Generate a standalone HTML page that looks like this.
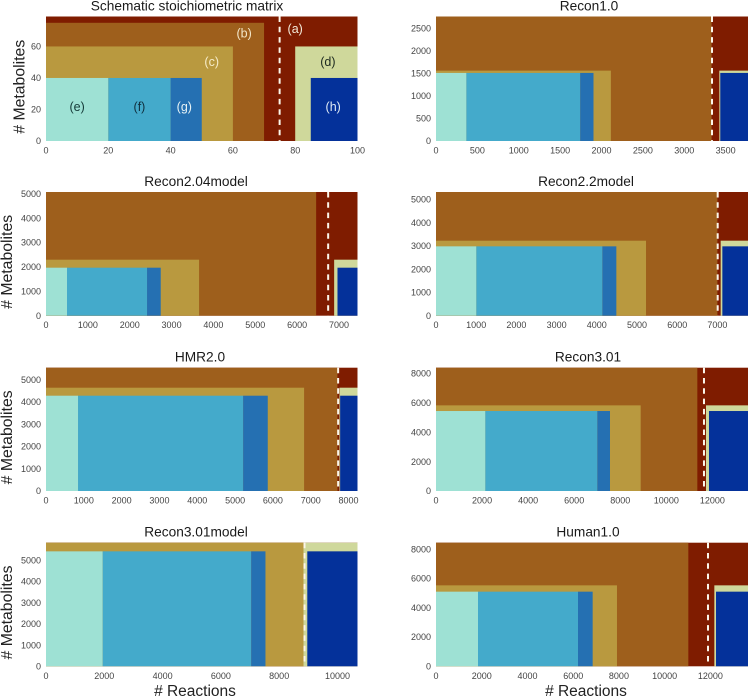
<!DOCTYPE html>
<html lang="en">
<head>
<meta charset="utf-8">
<title>Stoichiometric matrix comparison</title>
<style>
html,body{margin:0;padding:0;background:#fff;width:748px;height:697px;overflow:hidden}
svg{display:block;font-family:"Liberation Sans",Arial,sans-serif}
</style>
</head>
<body>
<svg id="figure" width="748" height="697" viewBox="0 0 748 697" xmlns="http://www.w3.org/2000/svg"></svg>
<script>
const panelTitles = ["Schematic stoichiometric matrix","Recon1.0","Recon2.04model","Recon2.2model","HMR2.0","Recon3.01","Recon3.01model","Human1.0"];
const xMax   = [100, 3770, 7442, 7761, 8237, 13546, 10686, 13644];
const yMax   = [79, 2760, 5068, 5315, 5539, 8390, 5833, 8451];
const xB     = [70, 3330, 6454, 7000, 7707, 11346, 8833, 11035];
const yB     = [75, 2760, 5068, 5315, 5539, 8390, 5833, 8451];
const xC     = [60, 2113, 3657, 5224, 6825, 8886, 8833, 7915];
const yC     = [60, 1560, 2295, 3223, 4641, 5828, 5833, 5535];
const xE     = [20, 367, 502, 1003, 847, 2142, 1945, 1837];
const xF     = [40, 1742, 2414, 4138, 5212, 7004, 7037, 6210];
const xG     = [50, 1903, 2741, 4486, 5864, 7554, 7529, 6851];
const yE     = [40, 1509, 1967, 2980, 4281, 5442, 5425, 5103];
const xD     = [80, 3423, 6884, 7081, 7760, 11722, 8833, 12172];
const xH     = [85, 3435, 6964, 7123, 7778, 11852, 8964, 12245];
const xCut   = [75, 3335, 6741, 7007, 7725, 11635, 8868, 11895];
const xTicks = [
  [0,20,40,60,80,100],
  [0,500,1000,1500,2000,2500,3000,3500],
  [0,1000,2000,3000,4000,5000,6000,7000],
  [0,1000,2000,3000,4000,5000,6000,7000],
  [0,1000,2000,3000,4000,5000,6000,7000,8000],
  [0,2000,4000,6000,8000,10000,12000],
  [0,2000,4000,6000,8000,10000],
  [0,2000,4000,6000,8000,10000,12000]
];
const yTicks = [
  [0,20,40,60],
  [0,500,1000,1500,2000,2500],
  [0,1000,2000,3000,4000,5000],
  [0,1000,2000,3000,4000,5000],
  [0,1000,2000,3000,4000,5000],
  [0,2000,4000,6000,8000],
  [0,1000,2000,3000,4000,5000],
  [0,2000,4000,6000,8000]
];
const regionNames = ["a","b","c","d","e","f","g","h"];
const regionLabelX = [80, 63.6, 53.2, 90.5, 10, 30, 44.4, 92.2];
const regionLabelY = [71.5, 68.5, 50.5, 50.5, 22, 22, 22, 22];

const NS = "http://www.w3.org/2000/svg";
const fig = document.getElementById("figure");
const colLeft = [46, 436];
const colRight = [357.5, 748];
const rowTop = [16.5, 192, 367.7, 542.7];
const rowBottom = [141, 315.7, 491, 666.3];
const titleCenters = [187, 589, 196, 586, 200, 588, 196, 588];
const colors = {a:"#7f1c00", b:"#9e5f1c", c:"#b9993f", d:"#cfd89b", e:"#9ee1d4", f:"#44aacb", g:"#2570b2", h:"#04319a"};
const labelColors = {a:"#f3ead8", b:"#f3e6c8", c:"#f6ecc8", d:"#1d2a20", e:"#143a38", f:"#10303f", g:"#e6f2f5", h:"#dfeaf5"};

function rect(parent, x0, y0, x1, y1, fill, name) {
  const r = document.createElementNS(NS, "rect");
  r.setAttribute("x", x0);
  r.setAttribute("y", y1);
  r.setAttribute("width", Math.max(0, x1 - x0));
  r.setAttribute("height", Math.max(0, y0 - y1));
  r.setAttribute("fill", fill);
  
  
  parent.appendChild(r);
  return r;
}
function text(parent, x, y, str, size, fill, anchor, name) {
  const t = document.createElementNS(NS, "text");
  t.setAttribute("x", x);
  t.setAttribute("y", y);
  t.setAttribute("font-size", size);
  t.setAttribute("fill", fill);
  t.setAttribute("text-anchor", anchor);
  
  
  t.textContent = str;
  parent.appendChild(t);
  return t;
}

panelTitles.forEach(function (title, i) {
  const col = i % 2;
  const row = Math.floor(i / 2);
  const left = colLeft[col], right = colRight[col], top = rowTop[row], bottom = rowBottom[row];
  const sx = function (v) { return left + (v / xMax[i]) * (right - left); };
  const sy = function (v) { return bottom - (v / yMax[i]) * (bottom - top); };

  const g = document.createElementNS(NS, "g");
  
  
  fig.appendChild(g);

  rect(g, sx(0), sy(0), sx(xMax[i]), sy(yMax[i]), colors.a, "region-a");
  rect(g, sx(0), sy(0), sx(xB[i]), sy(yB[i]), colors.b, "region-b");
  rect(g, sx(0), sy(0), sx(xC[i]), sy(yC[i]), colors.c, "region-c");
  rect(g, sx(xD[i]), sy(0), sx(xMax[i]), sy(yC[i]), colors.d, "region-d");
  rect(g, sx(0), sy(0), sx(xE[i]), sy(yE[i]), colors.e, "region-e");
  rect(g, sx(xE[i]), sy(0), sx(xF[i]), sy(yE[i]), colors.f, "region-f");
  rect(g, sx(xF[i]), sy(0), sx(xG[i]), sy(yE[i]), colors.g, "region-g");
  rect(g, sx(xH[i]), sy(0), sx(xMax[i]), sy(yE[i]), colors.h, "region-h");

  const cut = document.createElementNS(NS, "line");
  cut.setAttribute("x1", sx(xCut[i]));
  cut.setAttribute("x2", sx(xCut[i]));
  cut.setAttribute("y1", sy(yMax[i]));
  cut.setAttribute("y2", sy(0));
  cut.setAttribute("stroke", "#fbf6ea");
  cut.setAttribute("stroke-width", "2");
  cut.setAttribute("stroke-dasharray", "5.5 4.8");
  
  
  g.appendChild(cut);

  text(g, titleCenters[i], top - 6, title, 13.7, "#1a1a1a", "middle", "panel-title");

  xTicks[i].forEach(function (v) {
    text(g, sx(v), bottom + 12.5, String(v), 9, "#444", "middle", "x-tick-label");
  });
  yTicks[i].forEach(function (v) {
    text(g, left - 5, sy(v) + 3.2, String(v), 9, "#444", "end", "y-tick-label");
  });

  if (i === 0) {
    regionNames.forEach(function (n, k) {
      text(g, sx(regionLabelX[k]), sy(regionLabelY[k]) + 4.5, "(" + n + ")", 12.5, labelColors[n], "middle", "region-label-" + n);
    });
  }
  if (col === 0) {
    const yl = text(g, 0, 0, "# Metabolites", 15.8, "#222", "middle", "y-axis-title");
    const lx = i === 0 ? 24.5 : 12;
    yl.setAttribute("transform", "translate(" + lx + " " + ((top + bottom) / 2 + 8) + ") rotate(-90)");
  }
  if (row === 3) {
    text(g, col === 0 ? 195 : 586, 696, "# Reactions", 15.5, "#222", "middle", "x-axis-title");
  }
});
</script>
</body>
</html>
